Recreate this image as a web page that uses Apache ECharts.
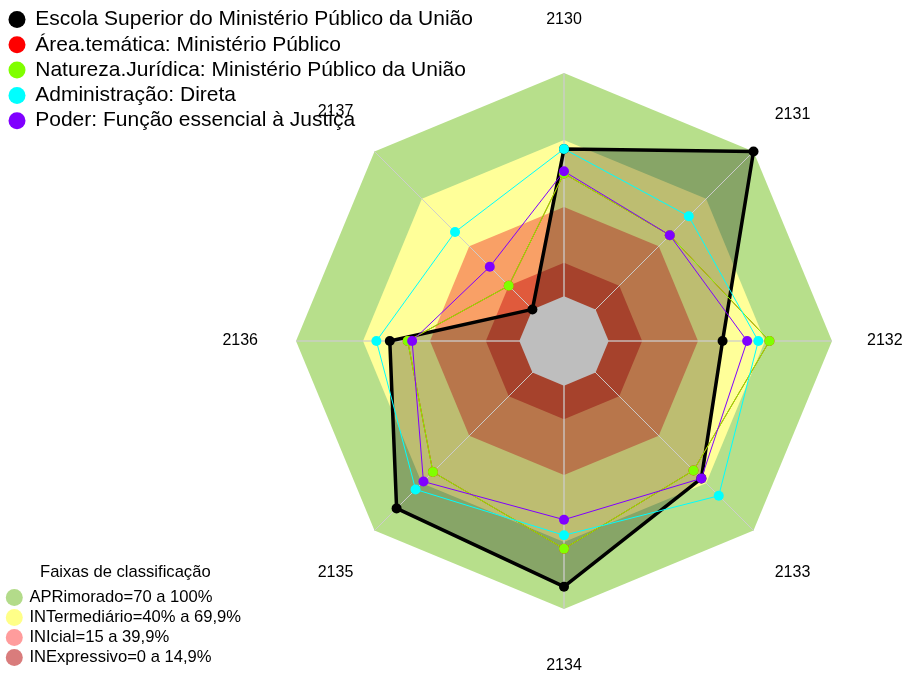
<!DOCTYPE html>
<html>
<head>
<meta charset="utf-8">
<script src="https://cdn.jsdelivr.net/npm/echarts@6/dist/echarts.min.js"></script>
<style>
html, body { margin: 0; padding: 0; background: #fff; }
#chart { width: 905px; height: 673px; }
</style>
</head>
<body>
<div id="chart"></div>
<script>
// eixos do radar (sentido horário a partir do topo)
var categorias = ['2130', '2131', '2132', '2133', '2134', '2135', '2136', '2137'];

var nomesSeries = [
  'Escola Superior do Ministério Público da União',
  'Área.temática: Ministério Público',
  'Natureza.Jurídica: Ministério Público da União',
  'Administração: Direta',
  'Poder: Função essencial à Justiça'
];
var coresSeries = ['#000000', '#ff0000', '#80ff00', '#00ffff', '#8000ff'];

var escola        = [66, 100, 51, 67, 90, 86, 58, 0];
var areaTematica  = [55, 47, 72, 62, 73, 63, 50, 15];
var natureza      = [55, 47, 72, 62, 73, 63, 50, 15];
var administracao = [66, 59, 67, 78, 67, 74, 64, 49];
var poder         = [56, 47, 62, 67, 60, 69, 48, 27];

// faixas de classificação
var faixas = ['APRimorado=70 a 100%', 'INTermediário=40% a 69,9%', 'INIcial=15 a 39,9%', 'INExpressivo=0 a 14,9%'];
var limitesFaixas = [100, 70, 40, 15];
var coresFaixas = ['#b7df8b', '#ffff99', '#f9a066', '#e05a3c'];
var coresLegendaFaixas = ['#b3db8a', '#ffff88', '#ff9c9c', '#d97c7c'];

var MIN = -20, MAX = 100;

// echarts desenha os indicadores no sentido anti-horário
var ordem = [0, 7, 6, 5, 4, 3, 2, 1];
function reordena(arr) {
  return ordem.map(function (i) { return arr[i]; });
}
function constante(v) {
  return categorias.map(function () { return v; });
}

// ajuste fino da posição dos rótulos
var estiloRotulo = { fontSize: 16, color: '#000', fontFamily: 'Liberation Sans' };
var paddingRotulo = {
  '2130': [0, 0, 15, 0],
  '2131': [0, 0, 31, 0],
  '2132': [0, 0, 0, 5],
  '2133': [41, 0, 0, 0],
  '2134': [19, 0, 0, 0],
  '2135': [41, 0, 0, 0],
  '2136': [0, 8, 0, 0],
  '2137': [0, 0, 37, 0]
};
var rich = {};
categorias.forEach(function (c) {
  rich['r' + c] = Object.assign({ padding: paddingRotulo[c] }, estiloRotulo);
});

var myChart = echarts.init(document.getElementById('chart'));

var series = [];
// faixas (poligonos cheios)
for (var i = 0; i < faixas.length; i++) {
  series.push({
    name: faixas[i],
    type: 'radar',
    silent: true,
    symbol: 'none',
    lineStyle: { width: 0 },
    itemStyle: { color: coresLegendaFaixas[i] },
    areaStyle: { color: coresFaixas[i], opacity: 1 },
    data: [{ value: constante(limitesFaixas[i]) }]
  });
}
// sombra da escola
series.push({
  name: 'fundoEscola',
  type: 'radar',
  silent: true,
  symbol: 'none',
  lineStyle: { width: 0 },
  areaStyle: { color: 'rgba(0,0,0,0.26)', opacity: 1 },
  data: [{ value: reordena(escola) }]
});
// raios
var raiosA = [], raiosB = [];
for (var j = 0; j < categorias.length; j++) {
  raiosA.push(j % 2 == 0 ? MAX : MIN);
  raiosB.push(j % 2 == 0 ? MIN : MAX);
}
[raiosA, raiosB].forEach(function (r, k) {
  series.push({
    name: 'raios' + k,
    type: 'radar',
    silent: true,
    symbol: 'none',
    lineStyle: { width: 1, color: 'rgba(205,205,205,0.8)' },
    data: [{ value: r }]
  });
});
// centro cinza
series.push({
  name: 'centro',
  type: 'radar',
  silent: true,
  symbol: 'none',
  lineStyle: { width: 0 },
  areaStyle: { color: '#bebebe', opacity: 1 },
  data: [{ value: constante(0) }]
});
// series de dados
var valores = [escola, areaTematica, natureza, administracao, poder];
for (var s = 0; s < valores.length; s++) {
  series.push({
    name: nomesSeries[s],
    type: 'radar',
    symbol: 'circle',
    symbolSize: 10,
    lineStyle: { width: s == 0 ? 3.5 : 1, color: coresSeries[s] },
    itemStyle: { color: coresSeries[s] },
    data: [{ value: reordena(valores[s]), name: nomesSeries[s] }]
  });
}

var option = {
  animation: false,
  title: {
    text: 'Faixas de classificação',
    left: 40,
    top: 564,
    padding: 0,
    textStyle: { fontSize: 16.6, fontWeight: 'normal', color: '#000', fontFamily: 'Liberation Sans' }
  },
  legend: [
    {
      orient: 'vertical',
      left: 8.5,
      top: 9,
      padding: 0,
      icon: 'circle',
      itemWidth: 26.5,
      itemHeight: 17,
      itemGap: 4.3,
      selectedMode: false,
      textStyle: { fontSize: 21, lineHeight: 21, color: '#000', fontFamily: 'Liberation Sans' },
      data: nomesSeries.map(function (n, k) {
        return { name: n, itemStyle: { color: coresSeries[k], borderWidth: 0 } };
      })
    },
    {
      orient: 'vertical',
      left: 5.8,
      top: 589,
      padding: 0,
      icon: 'circle',
      itemWidth: 20.2,
      itemHeight: 17,
      itemGap: 3,
      selectedMode: false,
      textStyle: { fontSize: 16.6, lineHeight: 17, color: '#000', fontFamily: 'Liberation Sans' },
      data: faixas.map(function (n, k) {
        return { name: n, itemStyle: { color: coresLegendaFaixas[k], borderWidth: 0 } };
      })
    }
  ],
  radar: {
    center: [564, 341],
    radius: 268,
    startAngle: 90,
    shape: 'polygon',
    splitNumber: 4,
    nameGap: 30,
    axisName: {
      color: '#000',
      fontSize: 16,
      fontFamily: 'Liberation Sans',
      formatter: function (value) {
        return '{r' + value + '|' + value + '}';
      },
      rich: rich
    },
    axisLine: { show: false },
    splitLine: { show: false },
    splitArea: { show: false },
    indicator: reordena(categorias).map(function (c) {
      return { name: c, min: MIN, max: MAX };
    })
  },
  series: series
};

myChart.setOption(option);
</script>
</body>
</html>
